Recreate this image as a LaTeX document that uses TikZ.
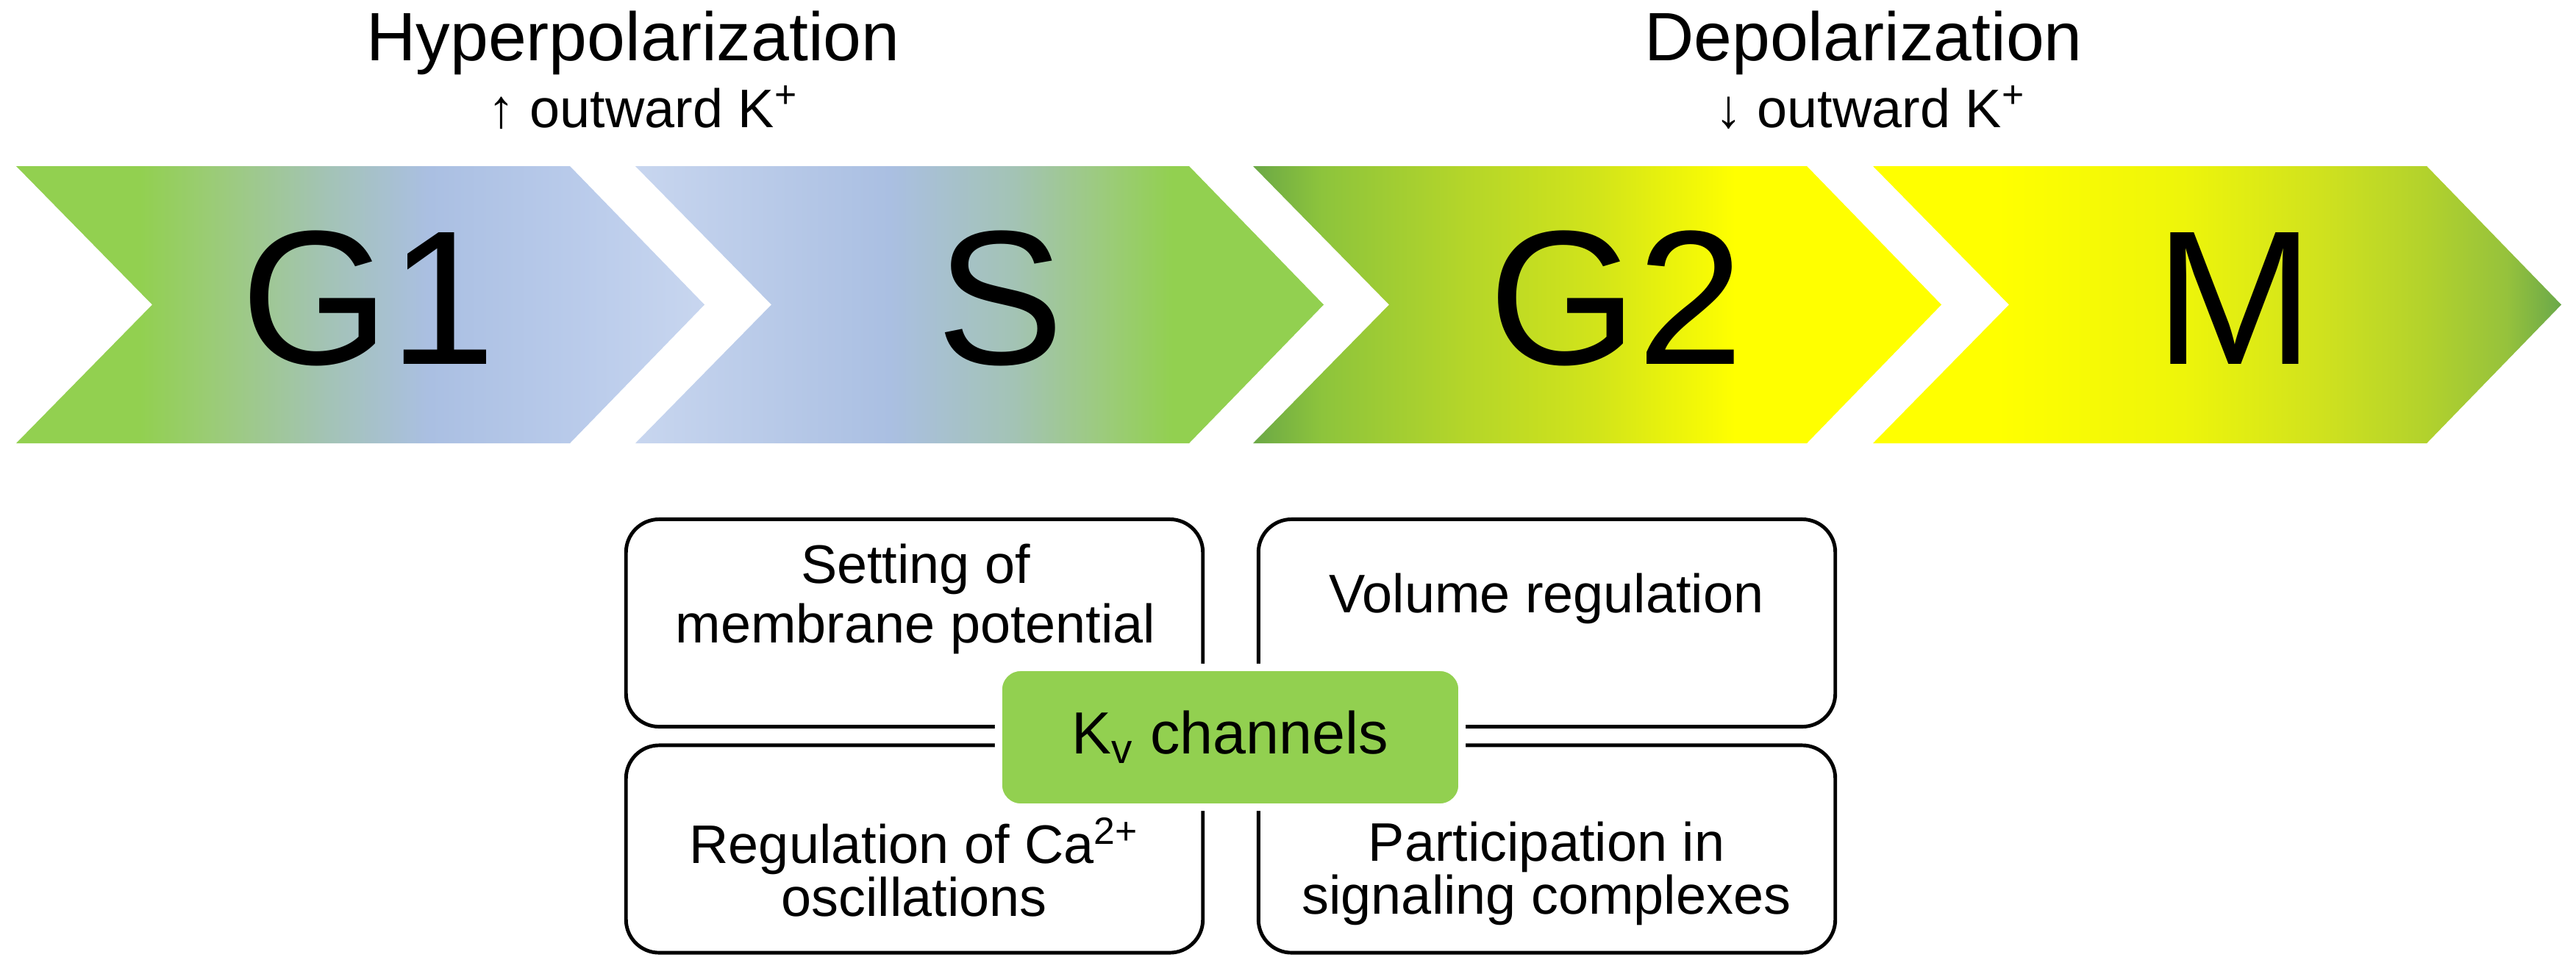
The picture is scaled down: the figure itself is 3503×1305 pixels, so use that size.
\documentclass[tikz,border=0pt]{standalone}
\usepackage{fontspec}
\setmainfont{Liberation Sans}
\definecolor{kvgreen}{HTML}{92D050}
\definecolor{cGreen}{HTML}{92D050}
\definecolor{cGreenMix}{HTML}{9CCB7C}
\definecolor{cTeal}{HTML}{A3C3B5}
\definecolor{cBlue}{HTML}{AABFE2}
\definecolor{cBlueMid}{HTML}{B8CAEA}
\definecolor{cLBlue}{HTML}{C8D6EF}
\definecolor{cDGreen}{HTML}{6BA846}
\definecolor{cGreenB}{HTML}{8DC43C}
\definecolor{cYG}{HTML}{B3D52A}
\definecolor{cYG2}{HTML}{D2E41A}
\definecolor{cYellow}{HTML}{FFFF00}
\definecolor{cY2}{HTML}{EEF50A}
\definecolor{cY3}{HTML}{D0E21E}
\definecolor{cY4}{HTML}{B3D22C}
\definecolor{cY5}{HTML}{96C23C}
\definecolor{cEnd}{HTML}{6AA84A}
% fraction f of the bounding box maps to 25bp + 50f bp
\pgfdeclarehorizontalshading{shGone}{100bp}{color(0bp)=(cGreen); color(25bp)=(cGreen); color(34bp)=(cGreen); color(40bp)=(cGreenMix); color(47.5bp)=(cTeal); color(55bp)=(cBlue); color(65bp)=(cBlueMid); color(75bp)=(cLBlue); color(100bp)=(cLBlue)}
\pgfdeclarehorizontalshading{shS}{100bp}{color(0bp)=(cLBlue); color(25bp)=(cLBlue); color(43.5bp)=(cBlue); color(52.5bp)=(cTeal); color(59bp)=(cGreenMix); color(64bp)=(cGreen); color(75bp)=(cGreen); color(100bp)=(cGreen)}
\pgfdeclarehorizontalshading{shGtwo}{100bp}{color(0bp)=(cDGreen); color(25bp)=(cDGreen); color(30bp)=(cGreenB); color(40bp)=(cYG); color(50bp)=(cYG2); color(60bp)=(cYellow); color(75bp)=(cYellow); color(100bp)=(cYellow)}
\pgfdeclarehorizontalshading{shM}{100bp}{color(0bp)=(cYellow); color(25bp)=(cYellow); color(34bp)=(cYellow); color(47.5bp)=(cY2); color(57.5bp)=(cY3); color(65bp)=(cY4); color(71bp)=(cY5); color(75bp)=(cEnd); color(100bp)=(cEnd)}
\newcommand\chevronpath[1]{(#1,226) -- ++(753,0) -- ++(183,188.5) -- ++(-183,188.5) -- ++(-753,0) -- ++(185,-188.5) -- cycle}
\begin{document}
\begin{tikzpicture}[x=0.01cm,y=-0.01cm,
  phase/.style={anchor=base, inner sep=0pt, font=\fontsize{74}{80}\selectfont},
  title/.style={anchor=base, inner sep=0pt, font=\fontsize{26.5}{30}\selectfont},
  subtitle/.style={anchor=base, inner sep=0pt, font=\fontsize{21}{24}\selectfont},
  fbox/.style={draw=black, line width=1.4pt, rounded corners=0.45cm, fill=white,
    minimum width=7.84cm, minimum height=2.82cm, inner sep=0pt},
  toptext/.style={align=center, inner sep=0pt, font=\fontsize{21}{23}\selectfont},
  bottext/.style={align=center, inner sep=0pt, font=\fontsize{21}{20.5}\selectfont},
  kvbox/.style={fill=kvgreen, draw=white, line width=0.1cm, rounded corners=0.3cm,
    minimum width=6.3cm, minimum height=1.9cm, inner sep=0pt, font=\fontsize{23}{26}\selectfont}]
\useasboundingbox (0,0) rectangle (3503,1305);
\fill[white] (0,0) rectangle (3503,1305);
% chevrons
\shade[shading=shGone] \chevronpath{22};
\shade[shading=shS] \chevronpath{864};
\shade[shading=shGtwo] \chevronpath{1704};
\shade[shading=shM] \chevronpath{2547};
\node[phase] (g1) at (501,495) {G1};
\node[phase] (s) at (1360,495) {S};
\node[phase] (g2) at (2198,495) {G2};
\node[phase] (m) at (3039,495) {M};
% titles
\node[title] (hyper) at (861,82) {Hyperpolarization};
\node[subtitle] (hypersub) at (874,173) {↑ outward K\textsuperscript{+}};
\node[title] (depol) at (2534,82) {Depolarization};
\node[subtitle] (depolsub) at (2543,173) {↓ outward K\textsuperscript{+}};
% boxes
\node[fbox] (tl) at (1243.5,847.5) {};
\node[fbox] (tr) at (2103.5,847.5) {};
\node[fbox] (bl) at (1243.5,1155) {};
\node[fbox] (br) at (2103.5,1155) {};
\node[toptext] (ttl) at (1245,815) {Setting of\\membrane potential};
\node[toptext, anchor=base] (ttr) at (2103,833) {Volume regulation};
\node[bottext] (tbl) at (1243,1180) {Regulation of Ca\textsuperscript{2+}\\oscillations};
\node[bottext] (tbr) at (2103,1188) {Participation in\\signaling complexes};
\node[kvbox] (kv) at (1673,1003) {K\textsubscript{v} channels};
\end{tikzpicture}
\end{document}
